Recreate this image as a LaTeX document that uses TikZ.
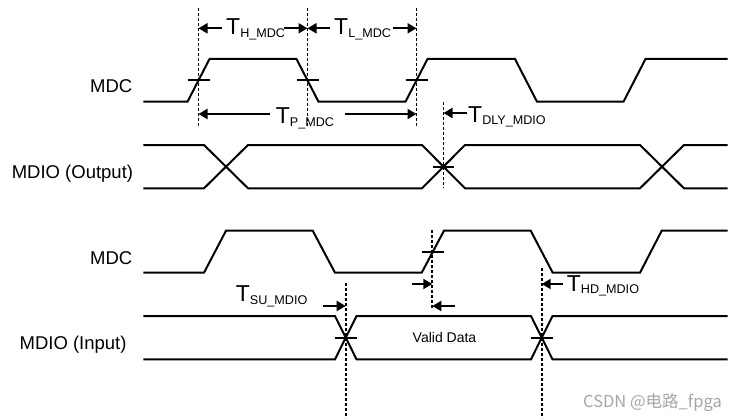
\documentclass[tikz,border=0pt]{standalone}
\usepackage{fontspec}
\setmainfont{Liberation Sans}
\newfontfamily\cjkfont{Noto Sans CJK SC}
\usetikzlibrary{arrows.meta}
\newcommand{\Tsub}[1]{{\fontsize{23}{23}\selectfont T}\raisebox{-2.5pt}{\fontsize{12.6}{12.6}\selectfont #1}}
\begin{document}
\begin{tikzpicture}[x=1pt,y=-1pt,
  sig/.style={line width=2pt, line join=miter},
  dsh/.style={line width=1.7pt, dash pattern=on 3pt off 2pt},
  tickm/.style={line width=1.8pt},
  arr/.style={line width=2pt, -{Triangle[length=9pt,width=10pt]}},
  siglab/.style={inner sep=0pt, anchor=base east, font=\fontsize{18.5}{20}\selectfont},
  tlab/.style={inner sep=0pt, anchor=base west}
]
\useasboundingbox (0,0) rectangle (736,420);

% ---- signal labels
\node[siglab] (lmdc1) at (132.5,92.3) {MDC};
\node[siglab] (lout)  at (133.3,178.5) {MDIO (Output)};
\node[siglab] (lmdc2) at (132.5,264) {MDC};
\node[siglab] (lin)   at (126.7,349.3) {MDIO (Input)};

% ---- MDC (top)
\draw[sig] (143.3,101.7) -- (187.5,101.7) -- (209.5,59) -- (296.5,59) -- (318.5,101.7)
  -- (405.5,101.7) -- (427.5,59) -- (515,59) -- (537,101.7) -- (623.5,101.7) -- (645.5,59) -- (727.7,59);
% cross ticks
\foreach \x in {198.5,307.5,416.5} \draw[tickm] (\x-11,80.3) -- (\x+11,80.3);

% ---- MDIO (Output)
\draw[sig] (143.3,145) -- (204,145) -- (248,188.3) -- (422,188.3) -- (465,145) -- (640,145) -- (684,188.3) -- (727.5,188.3);
\draw[sig] (143.3,188.3) -- (204,188.3) -- (248,145) -- (422,145) -- (465,188.3) -- (640,188.3) -- (684,145) -- (727.5,145);
\draw[tickm] (433,166.7) -- (454,166.7);

% ---- MDC (second)
\draw[sig] (143.3,272.7) -- (204,272.7) -- (226,230.7) -- (312.7,230.7) -- (335,272.7)
  -- (421.7,272.7) -- (444,230.7) -- (530.7,230.7) -- (552.7,272.7) -- (640,272.7) -- (661.7,230.7) -- (727.7,230.7);
\draw[tickm] (421.5,251.7) -- (443.5,251.7);

% ---- MDIO (Input)
\draw[sig] (143.3,316) -- (335,316) -- (356.5,359.3) -- (531,359.3) -- (552.5,316) -- (727.5,316);
\draw[sig] (143.3,359.3) -- (335,359.3) -- (356.5,316) -- (531,316) -- (552.5,359.3) -- (727.5,359.3);
\draw[tickm] (334.7,337.7) -- (356.7,337.7);
\draw[tickm] (530.7,337.7) -- (552.7,337.7);
\node[inner sep=0pt, font=\fontsize{14}{16}\selectfont] (vd) at (444.5,337.5) {Valid Data};

% ---- dashed reference lines
\coordinate (d1t) at (198.5,8);   \coordinate (d1b) at (198.5,127);
\coordinate (d2t) at (307.5,8);   \coordinate (d2b) at (307.5,127);
\coordinate (d3t) at (416.5,8);   \coordinate (d3b) at (416.5,127);
\coordinate (d4t) at (443.5,102); \coordinate (d4b) at (443.5,188);
\coordinate (d5t) at (432.3,230); \coordinate (d5b) at (432.3,310);
\coordinate (d6t) at (345.7,283); \coordinate (d6b) at (345.7,418);
\coordinate (d7t) at (541.7,268); \coordinate (d7b) at (541.7,418);
\foreach \i in {1,...,7} \draw[dsh] (d\i t) -- (d\i b);

% ---- T_H_MDC
\draw[arr] (221.7,28.3) -- (198.5,28.3);
\draw[arr] (284,28.3) -- (307.5,28.3);
\node[tlab] (th) at (226,34.5) {\Tsub{H\_MDC}};
% ---- T_L_MDC
\draw[arr] (330,28.3) -- (307.5,28.3);
\draw[arr] (393,28.3) -- (416.5,28.3);
\node[tlab] (tl) at (334,34.5) {\Tsub{L\_MDC}};
% ---- T_P_MDC
\draw[arr] (270,114) -- (198.5,114);
\draw[arr] (345,114) -- (416.5,114);
\node[tlab] (tp) at (275.7,123.5) {\Tsub{P\_MDC}};
% ---- T_DLY_MDIO
\draw[arr] (466.7,113) -- (443.5,113);
\node[tlab] (tdly) at (468,122) {\Tsub{DLY\_MDIO}};

% ---- setup / hold arrows on second MDC
\draw[arr] (411.7,284) -- (432.3,284);
\draw[arr] (455,306) -- (432.3,306);
\draw[arr] (563.3,284) -- (541.7,284);
\node[tlab] (thd) at (566.7,291) {\Tsub{HD\_MDIO}};
\draw[arr] (323.3,306) -- (345.7,306);
\node[tlab] (tsu) at (235.7,301.5) {\Tsub{SU\_MDIO}};

% ---- watermark
\node[inner sep=0pt, anchor=base east, text=black!35, font=\cjkfont\fontsize{16.5}{18}\selectfont] (wm) at (722,407) {CSDN @电路\_fpga};
\end{tikzpicture}
\end{document}
